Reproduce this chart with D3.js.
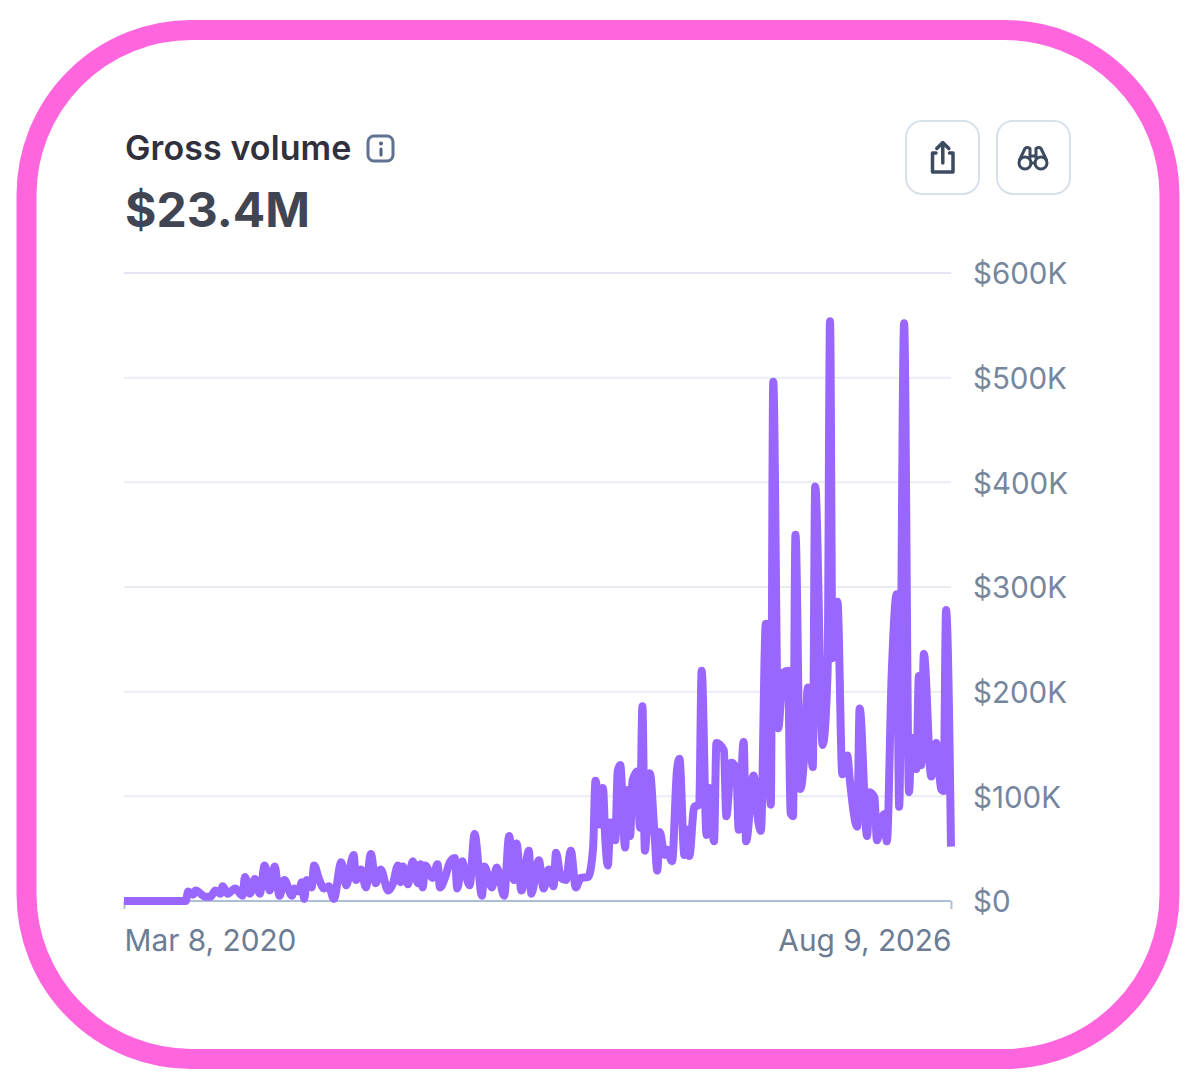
<!DOCTYPE html>
<html><head><meta charset="utf-8">
<script src="https://cdn.jsdelivr.net/npm/d3@7/dist/d3.min.js"></script>
<style>html,body{margin:0;padding:0;background:#fff}svg{display:block}text{font-family:Inter,"Noto Sans",sans-serif}</style>
</head><body><svg id="c" width="1200" height="1092"></svg>
<script>
const weeks=[0,25,26,28,29,33,35,37,39,40,42,45,48,49,51,53,55,57,59,61,63,65,68,69,71,72,73,74,76,77,79,81,83,85,88,90,93,94,96,98,100,102,104,107,109,111,112,113,115,117,119,120,121,122,125,127,128,130,132,134,135,137,138,140,142,145,146,149,151,154,156,158,159,161,164,165,168,170,172,174,175,177,179,181,183,185,188,190,191,193,194,195,196,197,199,200,201,203,204,205,206,208,209,210,211,213,215,216,217,219,220,222,224,225,227,228,229,231,233,234,236,237,239,240,243,244,246,248,249,251,252,255,257,258,260,262,263,265,267,269,270,271,272,274,276,277,279,280,283,285,286,287,289,291,293,294,297,298,301,302,304,305,307,308,309,311,313,314,316,318,319,321,322,323,324,327,329,331,332,333,335];
const volumeK=[0,0,9,6,10,4,4,10,7,14,7,12,5,23,7,21,7,34,10,33,5,20,5,12,9,18,2,20,13,34,21,12,14,2,37,15,44,20,30,13,45,17,30,10,17,34,18,33,16,38,17,35,13,34,22,35,13,22,37,41,12,38,30,15,64,5,33,13,32,5,62,20,55,10,48,7,39,12,30,14,46,22,20,48,13,22,23,50,115,73,108,57,34,75,58,124,130,51,106,62,115,124,70,186,48,122,60,29,66,44,49,38,125,136,44,68,43,90,92,220,63,108,57,151,144,81,132,127,68,152,57,120,75,67,265,92,496,165,218,220,84,81,350,107,156,204,128,396,149,218,554,232,286,121,139,116,71,184,62,104,99,58,80,83,57,218,293,90,552,104,156,126,215,130,236,119,151,107,105,278,52];
const yTicks=[0,100,200,300,400,500,600];
const dateLabels=["Mar 8, 2020","Aug 9, 2026"];
const titleText="Gross volume", totalText="$23.4M";

const svg=d3.select("#c");
svg.append("rect").attr("x",26.5).attr("y",30).attr("width",1143).attr("height",1029).attr("rx",165).attr("ry",165)
  .attr("fill","#fff").attr("stroke","#ff66dd").attr("stroke-width",20);

const W=[124,951],H=[901,273];
const start=new Date(Date.UTC(2020,2,8));
const toDate=w=>d3.utcWeek.offset(start,w);
const x=d3.scaleUtc().domain([toDate(0),toDate(335)]).range(W);
const y=d3.scaleLinear().domain([0,600]).range(H);

svg.append("g").selectAll("line").data(yTicks.filter(d=>d>0)).join("line")
  .attr("x1",W[0]).attr("x2",W[1]).attr("y1",d=>y(d)).attr("y2",d=>y(d))
  .attr("stroke",d=>d===600?"#e4e4f3":"#e9edf3").attr("stroke-width",2);

const ya=svg.append("g").attr("transform",`translate(${W[1]},0)`)
  .call(d3.axisRight(y).tickValues(yTicks).tickSize(0).tickPadding(22).tickFormat(d=>d===0?"$0":`$${d}K`));
ya.select(".domain").remove();
ya.selectAll("text").attr("font-size",29.5).attr("fill","#76869c").attr("font-family","Inter").attr("dy","0.37em");

const xa=svg.append("g").attr("transform",`translate(0,${H[0]})`)
  .call(d3.axisBottom(x).tickValues([toDate(0),toDate(335)]).tickSize(8).tickPadding(21).tickFormat((d,i)=>dateLabels[i]));
xa.select(".domain").attr("stroke","#aebed4").attr("stroke-width",2).attr("d",`M${W[0]},0H${W[1]}`);
xa.selectAll("line").attr("stroke","#aebed4").attr("stroke-width",2);
xa.selectAll("text").attr("font-size",29.8).attr("fill","#6c7c93").attr("font-family","Inter")
  .attr("text-anchor",(d,i)=>i?"end":"start");

const pts=weeks.map((w,i)=>[toDate(w),volumeK[i]]);
svg.append("path").datum(pts)
  .attr("d",d3.line().x(d=>x(d[0])).y(d=>y(d[1])).curve(d3.curveMonotoneX))
  .attr("fill","none").attr("stroke","#9966ff").attr("stroke-width",8)
  .attr("stroke-linejoin","round").attr("stroke-linecap","butt");

svg.append("text").attr("x",125).attr("y",160).attr("font-size",34).attr("font-weight",600).attr("letter-spacing",0.1).attr("fill","#30313d").text(titleText);
svg.append("text").attr("x",125).attr("y",227).attr("font-size",48).attr("font-weight",700).attr("fill","#414552").text(totalText);

const info=svg.append("g");
info.append("rect").attr("x",368).attr("y",136).attr("width",25).attr("height",25).attr("rx",6).attr("fill","none").attr("stroke","#5f7391").attr("stroke-width",3);
info.append("circle").attr("cx",381).attr("cy",143.5).attr("r",2).attr("fill","#4f6280");
info.append("path").attr("d","M381 149V155").attr("stroke","#4f6280").attr("stroke-width",3).attr("stroke-linecap","round");

[[906,121],[997,121]].forEach(([bx,by])=>{
  svg.append("rect").attr("x",bx).attr("y",by).attr("width",73).attr("height",73).attr("rx",16)
    .attr("fill","#fff").attr("stroke","#d8e1ea").attr("stroke-width",2);
});
const ink="#3c4b61";
svg.append("path").attr("d","M936 153H932.5V172H953V153H949.5M942.8 163V143M936.8 148.5L942.8 142.5L948.8 148.5")
  .attr("fill","none").attr("stroke",ink).attr("stroke-width",3.5).attr("stroke-linejoin","round").attr("stroke-linecap","round");
const bin=svg.append("g").attr("fill","none").attr("stroke",ink).attr("stroke-width",3).attr("stroke-linecap","round").attr("stroke-linejoin","round");
bin.append("circle").attr("cx",1025).attr("cy",163).attr("r",6);
bin.append("circle").attr("cx",1041).attr("cy",163).attr("r",6);
bin.append("path").attr("d","M1019.5 160L1025 148.5Q1027 146.5 1030 148.5V158M1046.5 160L1041 148.5Q1039 146.5 1036 148.5V158M1030 156H1036M1031 163H1035");
</script></body></html>
